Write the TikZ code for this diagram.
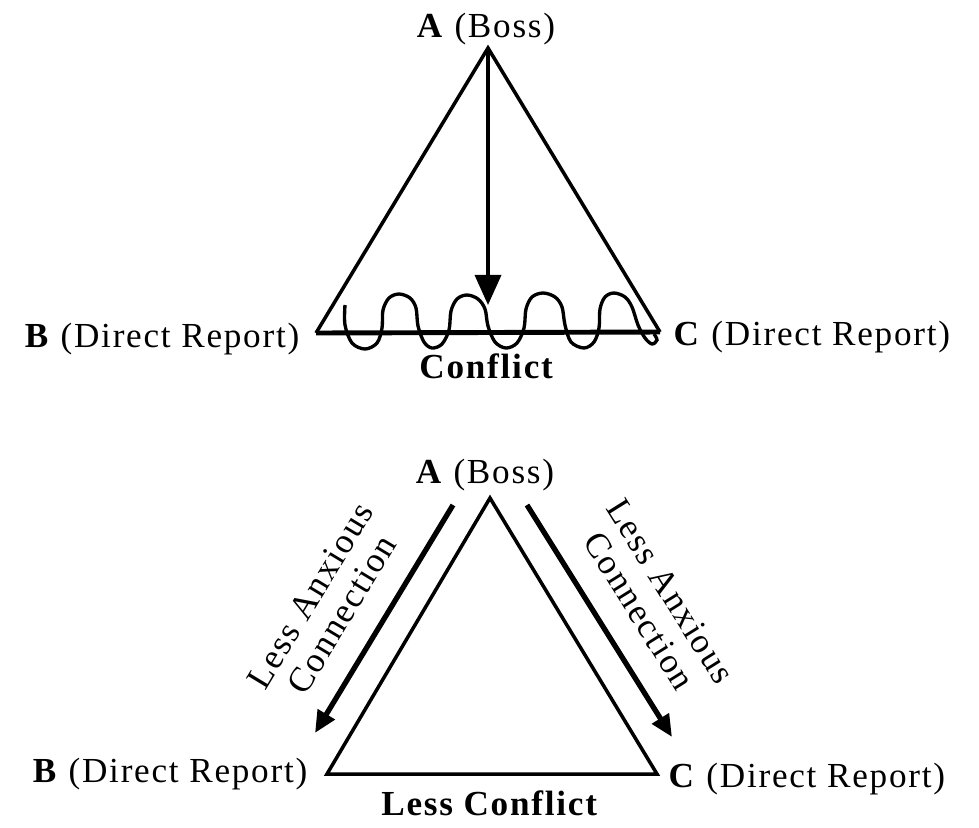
\documentclass[tikz,border=0pt]{standalone}
\usepackage{fontspec}
\setmainfont[LetterSpace=5]{Liberation Serif}
\usetikzlibrary{arrows.meta}

\tikzset{
  lbl/.style={font=\fontsize{10}{10.5}\selectfont, inner sep=0pt},
  side/.style={line width=1pt, line join=miter},
  basel/.style={line width=1.4pt},
  wave/.style={line width=0.95pt},
  push/.style={line width=1pt, -{Triangle[length=0.3cm,width=0.26cm]}},
  link/.style={line width=1.5pt, -{Triangle[length=0.22cm,width=0.19cm]}},
}

\begin{document}
\begin{tikzpicture}[x=0.01cm, y=-0.01cm]
  \useasboundingbox (0,0) rectangle (979,827);

  % Top triangle: conflict
  \coordinate (A1) at (488,48);
  \coordinate (B1) at (316,333);
  \coordinate (C1) at (660,332);
  \coordinate (hit) at (488,305);
  \node[lbl, anchor=base] (boss1) at (486,37) {\textbf{A} (Boss)};
  \node[lbl, anchor=base east] (rep1b) at (300,347) {\textbf{B} (Direct Report)};
  \node[lbl, anchor=base west] (rep1c) at (673,345) {\textbf{C} (Direct Report)};
  \node[lbl, anchor=base] (conf1) at (487,378) {\textbf{Conflict}};
  \draw[side] (B1) -- (A1) -- (C1);
  \draw[basel] (B1) -- (C1);
  \draw[push] (A1) -- (hit);
  \draw[wave] plot[smooth, tension=0.55] coordinates {
    (345,305) (345,325) (352,343) (365,349) (377,343) (382,328) (383,310)
    (389,298) (399,294) (410,298) (416,308) (418,326) (424,342) (432,348)
    (442,344) (449,330) (451,311) (457,299) (467,295) (478,299) (485,309)
    (488,326) (495,342) (506,348) (517,343) (524,328) (526,309) (532,297)
    (543,293) (555,297) (562,307) (565,325) (571,342) (584,348) (594,342)
    (599,328) (600,309) (605,297) (614,293) (625,297) (632,307) (638,325)
    (645,338) (652,344) (657,340) (654,334)};

  % Bottom triangle: less conflict
  \coordinate (A2) at (490,498);
  \coordinate (B2) at (327,774);
  \coordinate (C2) at (657,774);
  \coordinate (la) at (453,505);
  \coordinate (lb) at (315,733);
  \coordinate (ra) at (527,505);
  \coordinate (rb) at (672,737);
  \node[lbl, anchor=base] (boss2) at (485,483) {\textbf{A} (Boss)};
  \node[lbl, anchor=base east] (rep2b) at (308,782) {\textbf{B} (Direct Report)};
  \node[lbl, anchor=base west] (rep2c) at (668,787) {\textbf{C} (Direct Report)};
  \node[lbl, anchor=base] (conf2) at (490,815) {\textbf{Less Conflict}};
  \draw[side] (A2) -- (B2) -- (C2) -- cycle;
  \draw[link] (la) -- (lb);
  \draw[link] (ra) -- (rb);
  \node[lbl, align=center, rotate=58.8] (tieb) at (326,605) {Less Anxious\\Connection};
  \node[lbl, align=center, rotate=-58] (tiec) at (655,601) {Less Anxious\\Connection};
\end{tikzpicture}
\end{document}
